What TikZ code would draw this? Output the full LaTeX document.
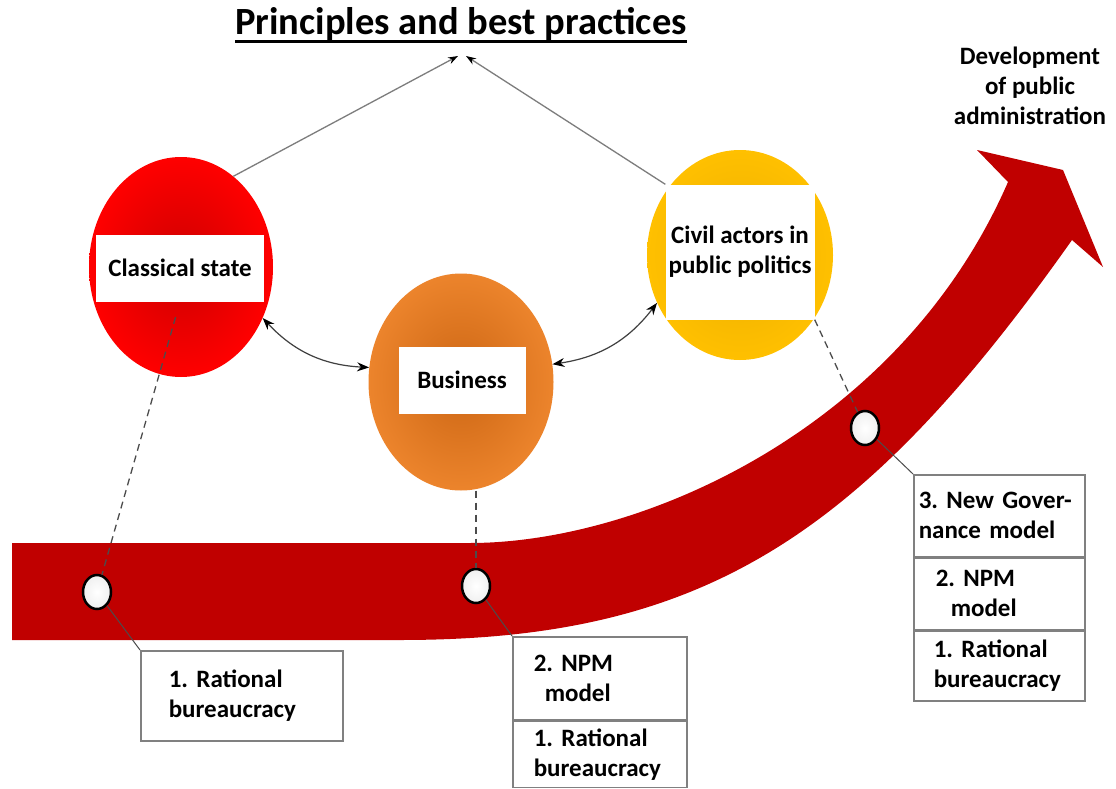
\documentclass[tikz,border=0pt]{standalone}
\usepackage{fontspec}
\setmainfont{Carlito}
\usetikzlibrary{calc,positioning,arrows.meta,shapes}
\hyphenpenalty=10000
\frenchspacing

\definecolor{arrowred}{RGB}{192,0,0}
\definecolor{stateedge}{RGB}{255,0,0}
\definecolor{statecore}{RGB}{205,0,0}
\definecolor{bizedge}{RGB}{236,132,44}
\definecolor{bizcore}{RGB}{204,102,20}
\definecolor{civiledge}{RGB}{255,192,0}
\definecolor{civilcore}{RGB}{236,174,0}
\definecolor{boxgray}{RGB}{128,128,128}
\definecolor{linkgray}{RGB}{125,125,125}

\tikzset{
    txt/.style={font=\bfseries\fontsize{25}{30}\selectfont},
    actor/.style={ellipse, minimum width=184pt, minimum height=220pt},
    tag/.style={txt, fill=white, align=center, inner sep=0pt},
    milestone/.style={ellipse, draw=black, line width=2.5pt, minimum width=28pt,
        minimum height=34pt, inner color=white, outer color=black!6},
    cell/.style={txt, draw=boxgray, line width=1.5pt, fill=white, anchor=north west,
        align=left, inner ysep=0pt},
    link/.style={draw=linkgray, line width=1.3pt, -{Stealth[black, length=10pt, width=7pt]}},
    duo/.style={draw=black!75, line width=1.2pt,
        {Stealth[black, length=12pt, width=9pt]}-{Stealth[black, length=12pt, width=9pt]}},
    dashline/.style={draw=black!70, line width=1.3pt, dash pattern=on 7pt off 5pt},
    tie/.style={draw=black!70, line width=1pt}
}

\begin{document}
\begin{tikzpicture}[x=1pt, y=-1pt]
    % Page
    \fill[white] (0,0) rectangle (1116,789);
    \useasboundingbox (0,0) rectangle (1116,789);

    % Big arrow of development
    \fill[arrowred] (12,543) -- (470,543) .. controls (640,543) and (900,430) .. (1008,182)
        -- (977,150) -- (1063,170) -- (1103,267) -- (1072,240)
        .. controls (860,540) and (700,640) .. (400,640) -- (12,640) -- cycle;

    % Three actors
    \node[actor, inner color=statecore, outer color=stateedge] (state) at (181,267) {};
    \node[actor, minimum width=185pt, minimum height=217pt,
        inner color=bizcore, outer color=bizedge] (business) at (461,382) {};
    \node[actor, minimum width=186pt, minimum height=210pt,
        inner color=civilcore, outer color=civiledge] (civil) at (740,255) {};

    \node[tag, minimum width=168pt, minimum height=67pt] (statebox) at (180,268) {Classical state};
    \node[tag, minimum width=127pt, minimum height=67pt] (businessbox) at (462,380) {Business};
    \node[tag, minimum width=149pt, minimum height=135pt] (civilbox) at (740,252)
        {Civil actors in\\public politics};

    % Headings
    \node[font=\bfseries\fontsize{38.5}{42}\selectfont, inner sep=0pt] (title) at (461,24)
        {Principles and best practices};
    \draw[line width=2.5pt] ([yshift=-7pt]title.base west) -- ([yshift=-7pt]title.base east);
    \node[txt, align=center] (dev) at (1030,86) {Development\\of public\\administration};

    % Lines up to the principles
    \coordinate (topL) at (458,56);
    \coordinate (topR) at (466,56);
    \draw[link] (state.60) -- (topL);
    \draw[link] (civilbox.north west) -- (topR);

    % Exchange between the actors
    \draw[duo] (state.-32) to[bend right=22] (business.171);
    \draw[duo] (business.11) to[bend right=22] (civil.-150);

    % Milestones on the arrow
    \node[milestone] (c1) at (97,592) {};
    \node[milestone] (c2) at (476,586) {};
    \node[milestone] (c3) at (865,428) {};

    \draw[dashline, shorten <=16pt] (statebox.south) -- (c1);
    \draw[dashline] (c2 |- business.south) -- (c2);
    \draw[dashline] (civilbox.south east) -- (c3);

    % Model boxes
    \node[cell, text width=146pt, inner xsep=28pt, minimum height=90pt] (box1) at (140,650)
        {1. Rational\\bureaucracy};

    \node[cell, text width=132pt, inner xsep=21pt, minimum height=83pt] (box2a) at (512,636)
        {2. NPM\\\hspace*{11pt}model};
    \node[cell, text width=132pt, inner xsep=21pt, minimum height=66pt] (box2b) at (box2a.south west)
        {1. Rational\\bureaucracy};

    \node[cell, text width=161pt, inner xsep=5pt, minimum height=82pt] (box3a) at (913,474)
        {3. New Gover-\\nance model};
    \node[cell, text width=127pt, inner xsep=22pt, minimum height=71pt] (box3b) at (box3a.south west)
        {2. NPM\\\hspace*{15pt}model};
    \node[cell, text width=131pt, inner xsep=20pt, minimum height=70pt] (box3c) at (box3b.south west)
        {1. Rational\\bureaucracy};

    \draw[tie] (c1) -- (box1.north west);
    \draw[tie] (c2) -- (box2a.north west);
    \draw[tie] (c3) -- (box3a.north west);
\end{tikzpicture}
\end{document}
